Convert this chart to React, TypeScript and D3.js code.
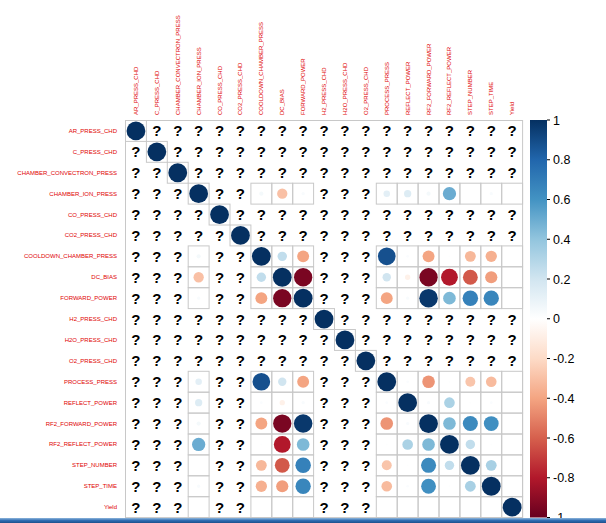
import React from "react";
import * as d3 from "d3";

const variables = [
  "AR_PRESS_CHD", "C_PRESS_CHD", "CHAMBER_CONVECTRON_PRESS", "CHAMBER_ION_PRESS",
  "CO_PRESS_CHD", "CO2_PRESS_CHD", "COOLDOWN_CHAMBER_PRESS", "DC_BIAS", "FORWARD_POWER",
  "H2_PRESS_CHD", "H2O_PRESS_CHD", "O2_PRESS_CHD", "PROCESS_PRESS", "REFLECT_POWER",
  "RF2_FORWARD_POWER", "RF2_REFLECT_POWER", "STEP_NUMBER", "STEP_TIME", "Yield",
];

const N = null;
const corrRows: (number | null)[][] = [
  [1, N, N, N, N, N, N, N, N, N, N, N, N, N, N, N, N, N, N],
  [N, 1, N, N, N, N, N, N, N, N, N, N, N, N, N, N, N, N, N],
  [N, N, 1, N, N, N, N, N, N, N, N, N, N, N, N, N, N, N, N],
  [N, N, N, 1, N, N, 0.05, -0.3, 0.03, N, N, N, 0.12, 0.15, 0.05, 0.5, 0, 0.03, 0],
  [N, N, N, N, 1, N, N, N, N, N, N, N, N, N, N, N, N, N, N],
  [N, N, N, N, N, 1, N, N, N, N, N, N, N, N, N, N, N, N, N],
  [N, N, N, 0.05, N, N, 1, 0.25, -0.4, N, N, N, 0.88, 0.02, -0.4, 0.01, -0.33, -0.36, 0],
  [N, N, N, -0.3, N, N, 0.25, 1, -0.95, N, N, N, 0.2, -0.08, -0.95, -0.8, -0.62, -0.42, 0],
  [N, N, N, 0.03, N, N, -0.4, -0.95, 1, N, N, N, -0.4, 0.03, 0.97, 0.45, 0.68, 0.66, 0],
  [N, N, N, N, N, N, N, N, N, 1, N, N, N, N, N, N, N, N, N],
  [N, N, N, N, N, N, N, N, N, N, 1, N, N, N, N, N, N, N, N],
  [N, N, N, N, N, N, N, N, N, N, N, 1, N, N, N, N, N, N, N],
  [N, N, N, 0.12, N, N, 0.88, 0.2, -0.4, N, N, N, 1, 0.02, -0.45, 0.01, -0.28, -0.32, 0],
  [N, N, N, 0.15, N, N, 0.02, -0.08, 0.03, N, N, N, 0.02, 1, 0.03, 0.32, 0.01, 0.02, 0],
  [N, N, N, 0.05, N, N, -0.4, -0.95, 0.97, N, N, N, -0.45, 0.03, 1, 0.45, 0.64, 0.62, 0],
  [N, N, N, 0.5, N, N, 0.01, -0.8, 0.45, N, N, N, 0.01, 0.32, 0.45, 1, 0.25, 0.01, 0],
  [N, N, N, 0, N, N, -0.33, -0.62, 0.68, N, N, N, -0.28, 0.01, 0.64, 0.25, 1, 0.33, 0],
  [N, N, N, 0.03, N, N, -0.36, -0.42, 0.66, N, N, N, -0.32, 0.02, 0.62, 0.01, 0.33, 1, 0],
  [N, N, N, 0, N, N, 0, 0, 0, N, N, N, 0, 0, 0, 0, 0, 0, 1],
];

const paletteColors = [
  "#67001F", "#B2182B", "#D6604D", "#F4A582", "#FDDBC7", "#FFFFFF",
  "#D1E5F0", "#92C5DE", "#4393C3", "#2166AC", "#053061",
];
const legendTicks = [1, 0.8, 0.6, 0.4, 0.2, 0, -0.2, -0.4, -0.6, -0.8, -1];

export default function App() {
  const W = 606, H = 523;
  const gx0 = 125.5, gy0 = 120.5, cell = 20.9;
  const n = variables.length;
  const x = d3.scaleBand<number>().domain(d3.range(n)).range([gx0, gx0 + n * cell]);
  const y = d3.scaleBand<number>().domain(d3.range(n)).range([gy0, gy0 + n * cell]);
  const color = d3
    .scaleLinear<string>()
    .domain(d3.range(paletteColors.length).map((i) => -1 + (2 * i) / (paletteColors.length - 1)))
    .range(paletteColors)
    .interpolate(d3.interpolateRgb);
  const rScale = (v: number) => 0.45 * Math.sqrt(Math.abs(v)) * cell;

  const barX = 530, barW = 17, barTop = 120, barBot = 517.5;
  const ly = d3.scaleLinear().domain([1, -1]).range([barTop, barBot]);

  const cells: any[] = [];
  corrRows.forEach((row, i) =>
    row.forEach((v, j) => cells.push({ i, j, v }))
  );

  return (
    <svg width={W} height={H} style={{ position: "absolute", left: 0, top: 0, background: "#fff" }}
      fontFamily="'Liberation Sans', Arial, sans-serif">
      <defs>
        <linearGradient id="cbar" x1="0" y1="1" x2="0" y2="0">
          {paletteColors.map((c, k) => (
            <stop key={k} offset={k / (paletteColors.length - 1)} stopColor={c} />
          ))}
        </linearGradient>
        <linearGradient id="taskbar" x1="0" y1="0" x2="0" y2="1">
          <stop offset="0" stopColor="#8fb6dc" />
          <stop offset="0.5" stopColor="#2f6db3" />
          <stop offset="1" stopColor="#1d4f8c" />
        </linearGradient>
      </defs>
      <rect width={W} height={H} fill="#fff" />
      {/* cell grids for non-NA cells */}
      {cells.filter((c) => c.v !== null).map((c) => (
        <rect key={`g${c.i}-${c.j}`} x={x(c.j)} y={y(c.i)} width={cell} height={cell}
          fill="none" stroke="#c8c8c8" strokeWidth={1} />
      ))}
      <rect x={gx0} y={gy0} width={n * cell} height={n * cell} fill="none" stroke="#c8c8c8" strokeWidth={1} />
      {/* circles */}
      {cells.filter((c) => c.v !== null && Math.abs(c.v) > 0.001).map((c) => (
        <circle key={`c${c.i}-${c.j}`} cx={x(c.j)! + cell / 2} cy={y(c.i)! + cell / 2}
          r={rScale(c.v)} fill={color(c.v)} />
      ))}
      {/* NA marks */}
      {cells.filter((c) => c.v === null).map((c) => (
        <text key={`n${c.i}-${c.j}`} x={x(c.j)! + cell / 2} y={y(c.i)! + cell / 2 + 5.5}
          textAnchor="middle" fontSize={15} fontWeight="bold" fill="#000">?</text>
      ))}
      {/* row labels */}
      {variables.map((v, i) => (
        <text key={`rl${i}`} x={117} y={y(i)! + cell / 2 + 2} textAnchor="end" fontSize={6} fill="#e00000">{v}</text>
      ))}
      {/* column labels */}
      {variables.map((v, j) => (
        <text key={`cl${j}`} transform={`translate(${x(j)! + cell / 2 + 2},115) rotate(-90)`}
          textAnchor="start" fontSize={6} fill="#e00000">{v}</text>
      ))}
      {/* color legend */}
      <rect x={barX} y={barTop} width={barW} height={barBot - barTop} fill="url(#cbar)" />
      {legendTicks.map((t) => (
        <g key={`t${t}`}>
          <line x1={barX + barW} x2={barX + barW + 3} y1={ly(t)} y2={ly(t)} stroke="#000" strokeWidth={1} />
          <text x={barX + barW + 6} y={ly(t) + 4.5} fontSize={12.5} fill="#000">{t}</text>
        </g>
      ))}
      <rect x={0} y={518} width={W} height={5} fill="url(#taskbar)" />
    </svg>
  );
}
